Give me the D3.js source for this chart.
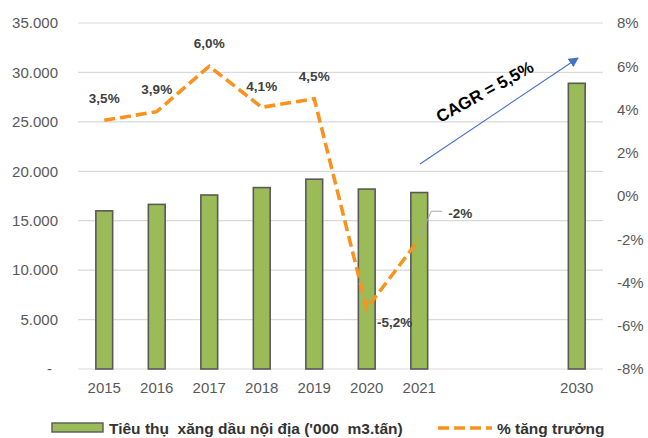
<!DOCTYPE html>
<html>
<head>
<meta charset="utf-8">
<script src="https://cdn.jsdelivr.net/npm/d3@7"></script>
<style>
  html, body { margin: 0; padding: 0; background: #fff; }
  svg { display: block; font-family: "Liberation Sans", Arial, sans-serif; }
</style>
</head>
<body>
<svg id="chart" width="648" height="438"></svg>
<script>
// Domestic fuel consumption ('000 m3.ton) and yearly growth rate
const years = ["2015", "2016", "2017", "2018", "2019", "2020", "2021", "2030"];
const consumption = [16000, 16650, 17600, 18350, 19200, 18200, 17850, 28900];
const growthYears = ["2015", "2016", "2017", "2018", "2019", "2020", "2021"];
const growth = [3.5, 3.9, 6.0, 4.1, 4.5, -5.2, -2.0];
const growthLabels = ["3,5%", "3,9%", "6,0%", "4,1%", "4,5%", "-5,2%", "-2%"];
const leftTicks = [0, 5000, 10000, 15000, 20000, 25000, 30000, 35000];
const leftTickLabels = ["-", "5.000", "10.000", "15.000", "20.000", "25.000", "30.000", "35.000"];
const rightTicks = [-8, -6, -4, -2, 0, 2, 4, 6, 8];
const legendBar = "Tiêu thụ  xăng dầu nội địa ('000  m3.tấn)";
const legendLine = "% tăng trưởng";
const cagrText = "CAGR = 5,5%";

const svg = d3.select("#chart");
const plot = { left: 78, right: 603, top: 23, bottom: 369 };

// two empty slots between 2021 and 2030
const slots = [...years.slice(0, 7), "gap1", "gap2", years[7]];
const x = d3.scaleBand().domain(slots).range([plot.left, plot.right]).paddingInner(0.68).paddingOuter(0.34);
const xc = d => x(d) + x.bandwidth() / 2;
const yL = d3.scaleLinear().domain([0, 35000]).range([plot.bottom, plot.top]);
const yR = d3.scaleLinear().domain([-8, 8]).range([plot.bottom, plot.top]);

// gridlines
svg.append("g").selectAll("line").data(leftTicks).join("line")
  .attr("x1", plot.left).attr("x2", plot.right)
  .attr("y1", d => yL(d)).attr("y2", d => yL(d))
  .attr("stroke", "#d9d9d9").attr("stroke-width", 1.2);

// left axis
const leftAxis = svg.append("g").attr("transform", `translate(${plot.left - 20},0)`)
  .call(d3.axisLeft(yL).tickValues(leftTicks).tickSize(0).tickPadding(0)
    .tickFormat((d, i) => leftTickLabels[i]));
leftAxis.select(".domain").remove();
leftAxis.selectAll("text").attr("fill", "#595959").style("font-size", "15px")
  .attr("dx", d => d === 0 ? -6 : 0);

// right axis
const rightAxis = svg.append("g").attr("transform", `translate(${plot.right + 14},0)`)
  .call(d3.axisRight(yR).tickValues(rightTicks).tickSize(0).tickPadding(0)
    .tickFormat(d => d + "%"));
rightAxis.select(".domain").remove();
rightAxis.selectAll("text").attr("fill", "#595959").style("font-size", "15px");

// bottom axis
const bottomAxis = svg.append("g").attr("transform", `translate(0,${plot.bottom + 13})`)
  .call(d3.axisBottom(x).tickValues(years).tickSize(0).tickPadding(0));
bottomAxis.select(".domain").remove();
bottomAxis.selectAll("text").attr("fill", "#595959").style("font-size", "15px");

// bars
svg.append("g").selectAll("rect").data(years).join("rect")
  .attr("x", d => x(d))
  .attr("width", x.bandwidth())
  .attr("y", (d, i) => yL(consumption[i]))
  .attr("height", (d, i) => yL(0) - yL(consumption[i]))
  .attr("fill", "#9bbb59")
  .attr("stroke", "#595959").attr("stroke-width", 1.6);

// growth line
const line = d3.line().x(d => xc(d.year)).y(d => yR(d.v));
const pts = growthYears.map((year, i) => ({ year, v: growth[i], label: growthLabels[i] }));
svg.append("path").datum(pts)
  .attr("d", line)
  .attr("fill", "none").attr("stroke", "#f7931e")
  .attr("stroke-width", 3.6).attr("stroke-dasharray", "11,5");

// data labels
const labelOffsets = [
  [0, -22], [0, -22], [0, -23], [0, -21], [0, -22], [28, 14], [41, -26]
];
svg.append("g").selectAll("text").data(pts).join("text")
  .attr("x", (d, i) => xc(d.year) + labelOffsets[i][0])
  .attr("y", (d, i) => yR(d.v) + labelOffsets[i][1])
  .attr("text-anchor", "middle").attr("dominant-baseline", "central")
  .attr("fill", "#404040").attr("font-weight", "bold").style("font-size", "13.5px")
  .text(d => d.label);

// leader line for the last label
const last = pts[pts.length - 1];
const lx = xc(last.year), ly = yR(last.v);
svg.append("path")
  .attr("d", `M${lx},${ly} L${lx + 12},${ly - 28} L${lx + 23},${ly - 28}`)
  .attr("fill", "none").attr("stroke", "#a6a6a6").attr("stroke-width", 1);

// CAGR arrow
const defs = svg.append("defs");
defs.append("marker").attr("id", "arrowHead")
  .attr("viewBox", "0 0 10 10").attr("refX", 9).attr("refY", 5)
  .attr("markerWidth", 10).attr("markerHeight", 10).attr("markerUnits", "userSpaceOnUse")
  .attr("orient", "auto")
  .append("path").attr("d", "M0,0 L10,5 L0,10 Z").attr("fill", "#4472c4");
svg.append("line")
  .attr("x1", 420).attr("y1", 164).attr("x2", 578).attr("y2", 58)
  .attr("stroke", "#4472c4").attr("stroke-width", 1.1)
  .attr("marker-end", "url(#arrowHead)");
svg.append("text")
  .attr("transform", "translate(485,92) rotate(-29)")
  .attr("text-anchor", "middle").attr("dominant-baseline", "central")
  .attr("font-weight", "bold").style("font-size", "17px").attr("fill", "#000")
  .text(cagrText);

// legend
const lg = svg.append("g");
lg.append("rect").attr("x", 52).attr("y", 423).attr("width", 51).attr("height", 9)
  .attr("fill", "#9bbb59").attr("stroke", "#595959").attr("stroke-width", 1.4);
lg.append("text").attr("x", 109).attr("y", 428).attr("dominant-baseline", "central")
  .attr("font-weight", "bold").style("font-size", "15.5px").attr("fill", "#333")
  .style("white-space", "pre").attr("xml:space", "preserve")
  .text(legendBar);
lg.append("line").attr("x1", 438).attr("x2", 492).attr("y1", 428).attr("y2", 428)
  .attr("stroke", "#f7931e").attr("stroke-width", 3.6).attr("stroke-dasharray", "11,5");
lg.append("text").attr("x", 497).attr("y", 428).attr("dominant-baseline", "central")
  .attr("font-weight", "bold").style("font-size", "15.5px").attr("fill", "#333")
  .text(legendLine);
</script>
</body>
</html>
